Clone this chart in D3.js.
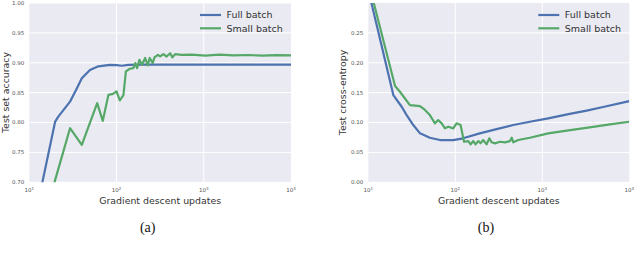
<!DOCTYPE html>
<html>
<head>
<meta charset="utf-8">
<script src="https://cdn.jsdelivr.net/npm/d3@7"></script>
<style>
  body { margin: 0; background: #fff; }
  svg { display: block; font-family: "DejaVu Sans", sans-serif; }
</style>
</head>
<body>
<svg id="chart" width="640" height="254"></svg>
<script>
// (a) test set accuracy
var fullAccX = [10, 14.3, 19.8, 21.5, 29.3, 34, 40, 49.6, 61.9, 84, 100, 115, 136, 200, 500, 1000, 2000, 5000, 10000];
var fullAccY = [0.60, 0.704, 0.8016, 0.81, 0.835, 0.853, 0.874, 0.888, 0.894, 0.8966, 0.896, 0.895, 0.8966, 0.897, 0.8968, 0.897, 0.8968, 0.897, 0.897];
var smallAccX = [15, 19.8, 29.3, 40, 60, 69.5, 80.7, 91, 100, 109, 120, 128, 142, 156, 164, 172, 183, 196, 213, 228, 240, 260, 272, 298, 316, 344, 375, 412, 437, 469, 556, 725, 1040, 1500, 2200, 3200, 4700, 6800, 10000];
var smallAccY = [0.64, 0.704, 0.7905, 0.7625, 0.8324, 0.8027, 0.8463, 0.848, 0.852, 0.837, 0.846, 0.8855, 0.89, 0.891, 0.8994, 0.891, 0.905, 0.8966, 0.908, 0.8955, 0.908, 0.8994, 0.909, 0.9133, 0.9105, 0.9145, 0.9105, 0.916, 0.909, 0.9145, 0.9133, 0.9135, 0.912, 0.9135, 0.9125, 0.913, 0.912, 0.9128, 0.9122];

// (b) test cross-entropy
var fullCeX = [10, 10.9, 19.4, 24.2, 27.6, 32.9, 39.3, 51, 66.5, 94.7, 123, 191, 298, 464, 720, 1170, 2000, 3240, 5000, 10000];
var fullCeY = [0.323, 0.2993, 0.146, 0.1264, 0.1125, 0.0958, 0.0819, 0.0746, 0.0707, 0.0707, 0.0736, 0.0819, 0.089, 0.0958, 0.1013, 0.107, 0.114, 0.12, 0.126, 0.1359];
var smallCeX = [10, 11.6, 20.3, 23.1, 30.1, 39.3, 44.8, 51, 58.4, 63.6, 69.8, 76, 83, 94.7, 103.5, 115, 126, 141, 150, 161, 171, 184, 195, 209, 229, 246, 262, 286, 326, 372, 425, 445, 464, 529, 720, 1170, 2000, 3500, 6000, 10000];
var smallCeY = [0.335, 0.2993, 0.161, 0.1515, 0.129, 0.1276, 0.121, 0.1125, 0.0987, 0.104, 0.0987, 0.0903, 0.093, 0.0903, 0.0987, 0.0958, 0.0679, 0.069, 0.0635, 0.069, 0.0635, 0.069, 0.0652, 0.0707, 0.0635, 0.0736, 0.0669, 0.0652, 0.0679, 0.0669, 0.069, 0.0746, 0.0669, 0.0707, 0.0746, 0.0819, 0.087, 0.092, 0.097, 0.1013];

var xTicks = [10, 100, 1000, 10000];
var accTicks = [0.70, 0.75, 0.80, 0.85, 0.90, 0.95, 1.00];
var ceTicks = [0.00, 0.05, 0.10, 0.15, 0.20, 0.25];
var seriesNames = ["Full batch", "Small batch"];
var colors = ["#4C72B0", "#55A868"];

var svg = d3.select("#chart");

function zip(xs, ys) {
  return xs.map(function(x, i) { return [x, ys[i]]; });
}

function drawPanel(opt) {
  var x = d3.scaleLog().domain([10, 10000]).range([opt.left, opt.right]);
  var y = d3.scaleLinear().domain(opt.yDomain).range([182.3, 3]);
  var g = svg.append("g");

  g.append("rect")
    .attr("x", opt.left).attr("y", 3)
    .attr("width", opt.right - opt.left).attr("height", 182.3 - 3)
    .attr("fill", "#EAEAF2");

  // grid
  g.selectAll("line.hg").data(opt.yTicks).enter().append("line")
    .attr("x1", opt.left).attr("x2", opt.right)
    .attr("y1", function(d) { return y(d); }).attr("y2", function(d) { return y(d); })
    .attr("stroke", "#fff").attr("stroke-width", 1);
  g.selectAll("line.vg").data(xTicks.slice(1, 3)).enter().append("line")
    .attr("x1", function(d) { return x(d); }).attr("x2", function(d) { return x(d); })
    .attr("y1", 3).attr("y2", 182.3)
    .attr("stroke", "#fff").attr("stroke-width", 1);

  // tick labels
  g.selectAll("text.yt").data(opt.yTicks).enter().append("text")
    .attr("x", opt.left - 5).attr("y", function(d) { return y(d); })
    .attr("dy", "0.35em").attr("text-anchor", "end")
    .attr("font-size", 5.5).attr("fill", "#555")
    .text(d3.format(".2f"));
  var xt = g.selectAll("text.xt").data(xTicks).enter().append("text")
    .attr("x", function(d) { return x(d); }).attr("y", 192)
    .attr("text-anchor", "middle").attr("font-size", 5.5).attr("fill", "#555");
  xt.append("tspan").text("10");
  xt.append("tspan").attr("dy", -2).attr("font-size", 4)
    .text(function(d) { return Math.round(Math.log10(d)); });

  // lines
  var clipId = "clip-" + opt.name;
  svg.append("clipPath").attr("id", clipId).append("rect")
    .attr("x", opt.left).attr("y", 3)
    .attr("width", opt.right - opt.left).attr("height", 182.3 - 3);
  var line = d3.line().x(function(d) { return x(d[0]); }).y(function(d) { return y(d[1]); });
  opt.series.forEach(function(s, i) {
    g.append("path").datum(s)
      .attr("clip-path", "url(#" + clipId + ")")
      .attr("d", line).attr("fill", "none")
      .attr("stroke", colors[i]).attr("stroke-width", 2.2)
      .attr("stroke-linejoin", "round");
  });

  // legend
  seriesNames.forEach(function(name, i) {
    var ly = 15 + i * 13.3;
    g.append("line")
      .attr("x1", opt.legendX).attr("x2", opt.legendX + 21)
      .attr("y1", ly).attr("y2", ly)
      .attr("stroke", colors[i]).attr("stroke-width", 2.2);
    g.append("text")
      .attr("x", opt.legendX + 26.5).attr("y", ly).attr("dy", "0.35em")
      .attr("font-size", 9.5).attr("fill", "#333")
      .text(name);
  });

  // axis labels
  g.append("text")
    .attr("x", (opt.left + opt.right) / 2).attr("y", 204)
    .attr("text-anchor", "middle").attr("font-size", 9.4).attr("fill", "#333")
    .text("Gradient descent updates");
  g.append("text")
    .attr("transform", "translate(" + opt.yLabelX + ",92.5) rotate(-90)")
    .attr("text-anchor", "middle").attr("font-size", 9.4).attr("fill", "#333")
    .text(opt.yLabel);
  g.append("text")
    .attr("x", opt.capX).attr("y", 232)
    .attr("text-anchor", "middle")
    .attr("font-family", "'Liberation Serif', serif").attr("font-size", 14).attr("fill", "#111")
    .text(opt.caption);
}

drawPanel({
  name: "a", left: 29.3, right: 291, yDomain: [0.70, 1.00], yTicks: accTicks,
  series: [zip(fullAccX, fullAccY), zip(smallAccX, smallAccY)],
  legendX: 200, yLabel: "Test set accuracy", yLabelX: 8.5, caption: "(a)", capX: 147.7
});
drawPanel({
  name: "b", left: 368.3, right: 629.3, yDomain: [0, 0.30], yTicks: ceTicks,
  series: [zip(fullCeX, fullCeY), zip(smallCeX, smallCeY)],
  legendX: 538.3, yLabel: "Test cross-entropy", yLabelX: 345.5, caption: "(b)", capX: 486
});
</script>
</body>
</html>
